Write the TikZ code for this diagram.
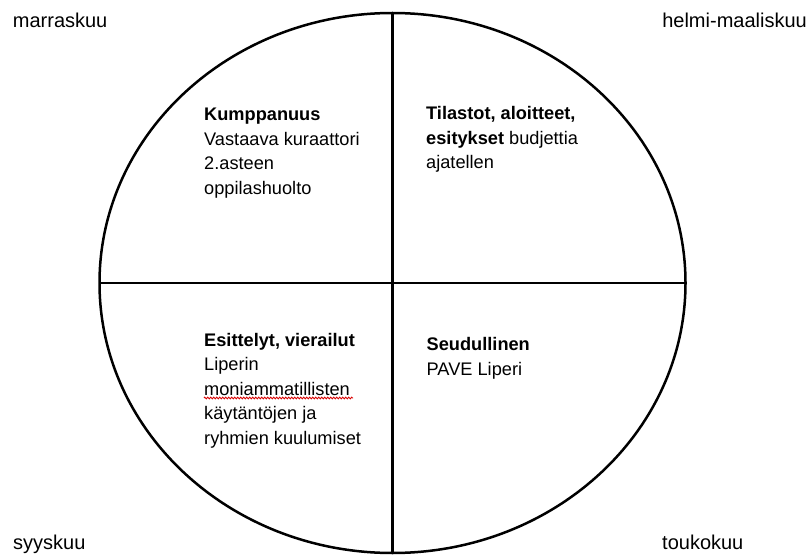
\documentclass[tikz,border=0pt]{standalone}
\usepackage{fontspec}
\setmainfont{Liberation Sans}
\usetikzlibrary{shapes.geometric,decorations.pathmorphing}

\begin{document}
\begin{tikzpicture}[x=1pt,y=-1pt,
  quarter/.style={anchor=north west,inner sep=0pt,align=left,
    font=\fontsize{18.2}{24.5}\selectfont},
  month/.style={inner sep=0pt,font=\fontsize{20}{24}\selectfont},
  rim/.style={line width=2.5pt,black}]
  \useasboundingbox (0,0) rectangle (811,556);

  % the year wheel and its four quarters
  \node[rim,draw,ellipse,inner sep=0pt,outer sep=0pt,
        minimum width=586pt,minimum height=540pt] (wheel) at (392.5,283) {};
  \draw[rim] (wheel.north) -- (wheel.south);
  \draw[rim] (wheel.west) -- (wheel.east);

  % quarter contents
  \node[quarter] (q1) at (204,103.5)
    {\strut\textbf{Kumppanuus}\\Vastaava kuraattori\\2.asteen\\oppilashuolto};
  \node[quarter] (q2) at (426,102.3)
    {\strut\textbf{Tilastot, aloitteet,}\\\textbf{esitykset} budjettia\\ajatellen};
  \node[quarter] (q3) at (204,328.9)
    {\strut\textbf{Esittelyt, vierailut}\\Liperin\\moniammatillisten\\k\"ayt\"ant\"ojen ja\\ryhmien kuulumiset};
  \node[quarter] (q4) at (426.5,333.5)
    {\strut\textbf{Seudullinen}\\PAVE Liperi};

  % spell-check mark under one word
  \coordinate (w1) at (204,398);
  \coordinate (w2) at (353,398);
  \draw[red!85!black,line width=0.8pt,
        decorate,decoration={zigzag,segment length=3pt,amplitude=0.9pt}] (w1) -- (w2);

  % months at the corners
  \node[month,anchor=base west] (nov) at (12.7,28) {marraskuu};
  \node[month,anchor=base east] (feb) at (807,28) {helmi-maaliskuu};
  \node[month,anchor=base west] (sep) at (13,549) {syyskuu};
  \node[month,anchor=base west] (may) at (662,549) {toukokuu};
\end{tikzpicture}
\end{document}
